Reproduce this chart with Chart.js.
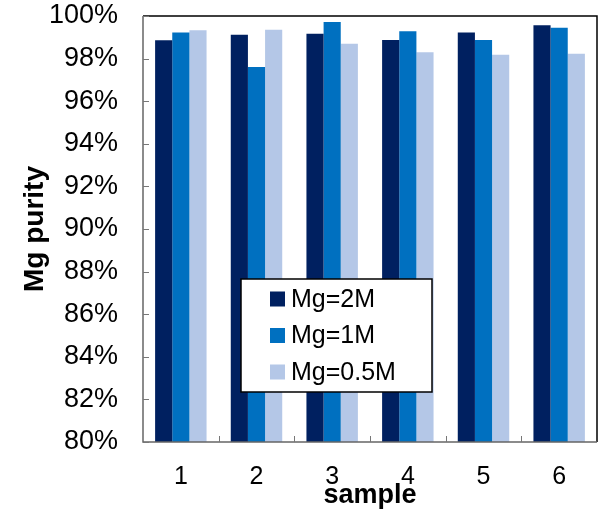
<!DOCTYPE html>
<html>
<head>
<meta charset="utf-8">
<script src="https://cdn.jsdelivr.net/npm/chart.js@4"></script>
<style>
  html, body { margin: 0; padding: 0; background: #fff; }
  #wrap { width: 602px; height: 516px; }
</style>
</head>
<body>
<div id="wrap"><canvas id="bar_chart" width="602" height="516"></canvas></div>
<script>
var samples = ["1", "2", "3", "4", "5", "6"];
var mg2M = [98.86, 99.12, 99.17, 98.87, 99.22, 99.56];
var mg1M = [99.22, 97.60, 99.72, 99.28, 98.87, 99.45];
var mg05M = [99.33, 99.36, 98.70, 98.30, 98.18, 98.23];
var seriesNames = ["Mg=2M", "Mg=1M", "Mg=0.5M"];
var seriesColors = ["#002060", "#0070C0", "#B4C7E7"];

var FONT = "'Liberation Sans', Arial, sans-serif";

// inward ticks + frame like the original
var framePlugin = {
    id: 'frame',
    afterDatasetsDraw: function (chart) {
        var c = chart.ctx, a = chart.chartArea;
        var x = chart.scales.x, y = chart.scales.y;
        c.save();
        c.lineWidth = 1.5;
        c.strokeStyle = '#000';
        c.beginPath();
        c.moveTo(a.left, a.top); c.lineTo(a.right, a.top); c.lineTo(a.right, a.bottom);
        c.stroke();
        c.strokeStyle = '#666';
        c.beginPath();
        c.moveTo(a.left, a.top); c.lineTo(a.left, a.bottom); c.lineTo(a.right, a.bottom);
        c.stroke();
        c.lineWidth = 1;
        c.strokeStyle = '#777';
        c.beginPath();
        y.ticks.forEach(function (t) {
            var py = Math.round(y.getPixelForValue(t.value)) + 0.5;
            c.moveTo(a.left, py); c.lineTo(a.left + 6, py);
        });
        for (var i = 1; i < samples.length; i++) {
            var px = Math.round((x.getPixelForValue(i - 1) + x.getPixelForValue(i)) / 2) + 0.5;
            c.moveTo(px, a.bottom); c.lineTo(px, a.bottom - 6);
        }
        c.stroke();
        c.restore();
    }
};

var legendPlugin = {
    id: 'boxLegend',
    afterDraw: function (chart) {
        var c = chart.ctx, a = chart.chartArea;
        var bx = a.left + 98, by = a.top + 263, bw = 191, bh = 113;
        c.save();
        c.fillStyle = '#fff';
        c.fillRect(bx, by, bw, bh);
        c.lineWidth = 1.5;
        c.strokeStyle = '#000';
        c.strokeRect(bx, by, bw, bh);
        c.font = '25px ' + FONT;
        c.textBaseline = 'middle';
        chart.data.datasets.forEach(function (ds, i) {
            var cy = by + 20 + i * 36.5;
            c.fillStyle = ds.backgroundColor;
            c.fillRect(bx + 29, cy - 7.5, 15, 15);
            c.fillStyle = '#000';
            c.fillText(ds.label, bx + 50, cy + 1);
        });
        c.restore();
    }
};

var ctx = document.getElementById("bar_chart");

var myBarChart = new Chart(ctx, {
    type: 'bar',
    data: {
        labels: samples,
        datasets: [
            { label: seriesNames[0], data: mg2M, backgroundColor: seriesColors[0] },
            { label: seriesNames[1], data: mg1M, backgroundColor: seriesColors[1] },
            { label: seriesNames[2], data: mg05M, backgroundColor: seriesColors[2] }
        ]
    },
    options: {
        responsive: false,
        animation: false,
        datasets: { bar: { categoryPercentage: 0.68, barPercentage: 1.0, borderWidth: 0 } },
        layout: { padding: { top: 16, right: 5, left: 0, bottom: 0 } },
        plugins: { legend: { display: false }, tooltip: { enabled: false } },
        scales: {
            x: {
                grid: { display: false, drawTicks: false },
                border: { display: false },
                ticks: { color: '#000', font: { family: FONT, size: 25 }, padding: 20 },
                title: { display: true, text: 'sample', color: '#000',
                         font: { family: FONT, size: 27, weight: 'bold' }, padding: { top: 0, bottom: 4 } },
                afterFit: function (s) { s.height = 74; }
            },
            y: {
                min: 80, max: 100,
                grid: { display: false, drawTicks: false },
                border: { display: false },
                ticks: { stepSize: 2, color: '#000', padding: 25,
                         font: { family: FONT, size: 27 },
                         callback: function (v) { return v + '%'; } },
                title: { display: true, text: 'Mg purity', color: '#000',
                         font: { family: FONT, size: 28, weight: 'bold' }, padding: { top: 18, bottom: 0 } },
                afterFit: function (s) { s.width = 143; s.paddingTop = 0; s.paddingBottom = 0; }
            }
        }
    },
    plugins: [framePlugin, legendPlugin]
});
</script>
</body>
</html>
